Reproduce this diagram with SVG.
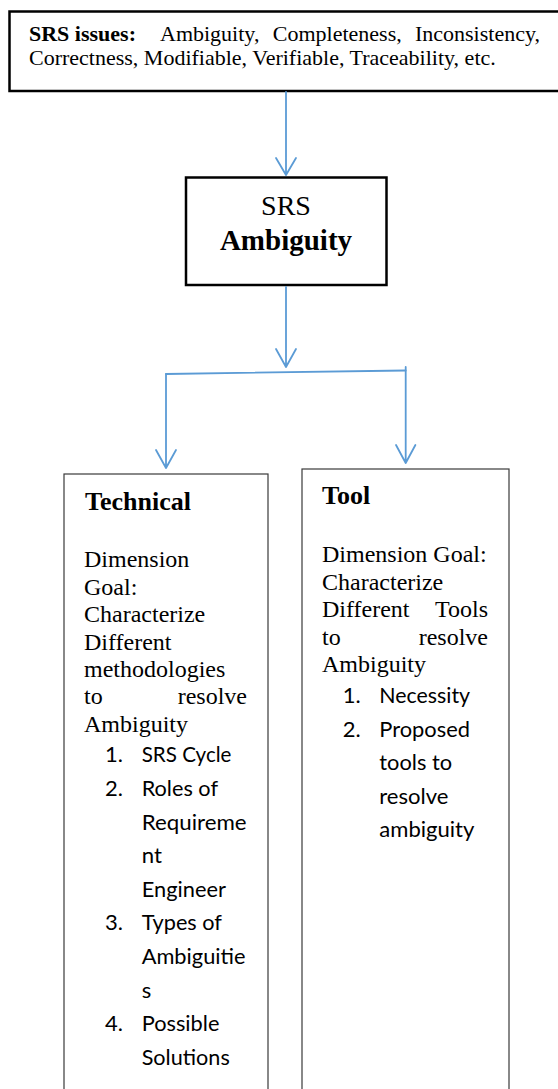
<svg xmlns="http://www.w3.org/2000/svg" width="558" height="1089" viewBox="0 0 558 1089">
<style>
.serif{font-family:"Liberation Serif","Times New Roman",serif;fill:#000}
.b{font-weight:bold}
.sans{font-family:Lato,"Open Sans","Liberation Sans",sans-serif;fill:#000;font-size:22px}
.thick{fill:#fff;stroke:#000;stroke-width:2.5}
.thin{fill:#fff;stroke:#3a3a3a;stroke-width:1.2}
.conn{fill:none;stroke:#5B9BD5;stroke-width:1.8;stroke-linecap:round;stroke-linejoin:round}
</style>
<rect width="558" height="1089" fill="#fff"/>
<g id="srs-issues">
<rect class="thick" x="9.5" y="11.5" width="560" height="79.5"/>
<text class="serif b" x="29" y="41" font-size="22">SRS issues:</text>
<text class="serif" x="160" y="41" font-size="22">Ambiguity,</text>
<text class="serif" x="272.8" y="41" font-size="22">Completeness,</text>
<text class="serif" x="540" y="41" font-size="22" text-anchor="end">Inconsistency,</text>
<text class="serif" x="29" y="65" font-size="22">Correctness, Modifiable, Verifiable, Traceability, etc.</text>
</g>
<g id="srs-ambiguity">
<rect class="thick" x="186" y="177.5" width="200.5" height="107.5"/>
<text class="serif" x="286" y="215" font-size="28" text-anchor="middle">SRS</text>
<text class="serif b" x="286" y="250" font-size="29" text-anchor="middle">Ambiguity</text>
</g>
<g id="technical">
<rect class="thin" x="64" y="474" width="204" height="640"/>
<text class="serif b" x="85" y="510" font-size="26">Technical</text>
<g class="serif" font-size="24">
<text x="84" y="567">Dimension</text>
<text x="84" y="594.5">Goal:</text>
<text x="84" y="622">Characterize</text>
<text x="84" y="649.5">Different</text>
<text x="84" y="677">methodologies</text>
<text x="84" y="704">to</text>
<text x="247" y="704" text-anchor="end">resolve</text>
<text x="84" y="731.5">Ambiguity</text>
</g>
<g class="sans">
<text x="105" y="762">1.</text>
<text x="141.7" y="762" textLength="89.8" lengthAdjust="spacingAndGlyphs">SRS Cycle</text>
<text x="105" y="796">2.</text>
<text x="141.7" y="796" textLength="76.3" lengthAdjust="spacingAndGlyphs">Roles of</text>
<text x="141.7" y="829.5" textLength="104.9" lengthAdjust="spacingAndGlyphs">Requireme</text>
<text x="141.7" y="863" textLength="20.2" lengthAdjust="spacingAndGlyphs">nt</text>
<text x="141.7" y="896.5" textLength="84.2" lengthAdjust="spacingAndGlyphs">Engineer</text>
<text x="105" y="930">3.</text>
<text x="141.7" y="930" textLength="80.2" lengthAdjust="spacingAndGlyphs">Types of</text>
<text x="141.7" y="964" textLength="103.8" lengthAdjust="spacingAndGlyphs">Ambiguitie</text>
<text x="141.7" y="997.5">s</text>
<text x="105" y="1031">4.</text>
<text x="141.7" y="1031" textLength="77.7" lengthAdjust="spacingAndGlyphs">Possible</text>
<text x="141.7" y="1065" textLength="88.1" lengthAdjust="spacingAndGlyphs">Solutions</text>
</g>
</g>
<g id="tool">
<rect class="thin" x="302" y="469" width="207" height="640"/>
<text class="serif b" x="322" y="504" font-size="26">Tool</text>
<g class="serif" font-size="24">
<text x="322" y="562">Dimension Goal:</text>
<text x="322" y="590">Characterize</text>
<text x="322" y="617">Different</text>
<text x="488" y="617" text-anchor="end">Tools</text>
<text x="322" y="644.5">to</text>
<text x="488" y="644.5" text-anchor="end">resolve</text>
<text x="322" y="672">Ambiguity</text>
</g>
<g class="sans">
<text x="342.7" y="703">1.</text>
<text x="379.3" y="703" textLength="90.8" lengthAdjust="spacingAndGlyphs">Necessity</text>
<text x="342.7" y="736.5">2.</text>
<text x="379.3" y="736.5" textLength="90.7" lengthAdjust="spacingAndGlyphs">Proposed</text>
<text x="379.3" y="770" textLength="72.8" lengthAdjust="spacingAndGlyphs">tools to</text>
<text x="379.3" y="803.5" textLength="69.2" lengthAdjust="spacingAndGlyphs">resolve</text>
<text x="379.3" y="837" textLength="95.1" lengthAdjust="spacingAndGlyphs">ambiguity</text>
</g>
</g>
<g id="connectors" class="conn">
<path d="M286 92 V175 M276 158 L286 175 L296 158"/>
<path d="M286 287 V367 M276 349 L286 367 L296 349"/>
<path d="M166 374 L405.7 370.5"/>
<path d="M166 374 V468 M156 450 L166 468 L176 450"/>
<path d="M405.7 367 V463 M396 445 L405.7 463 L415.4 445"/>
</g>
</svg>
